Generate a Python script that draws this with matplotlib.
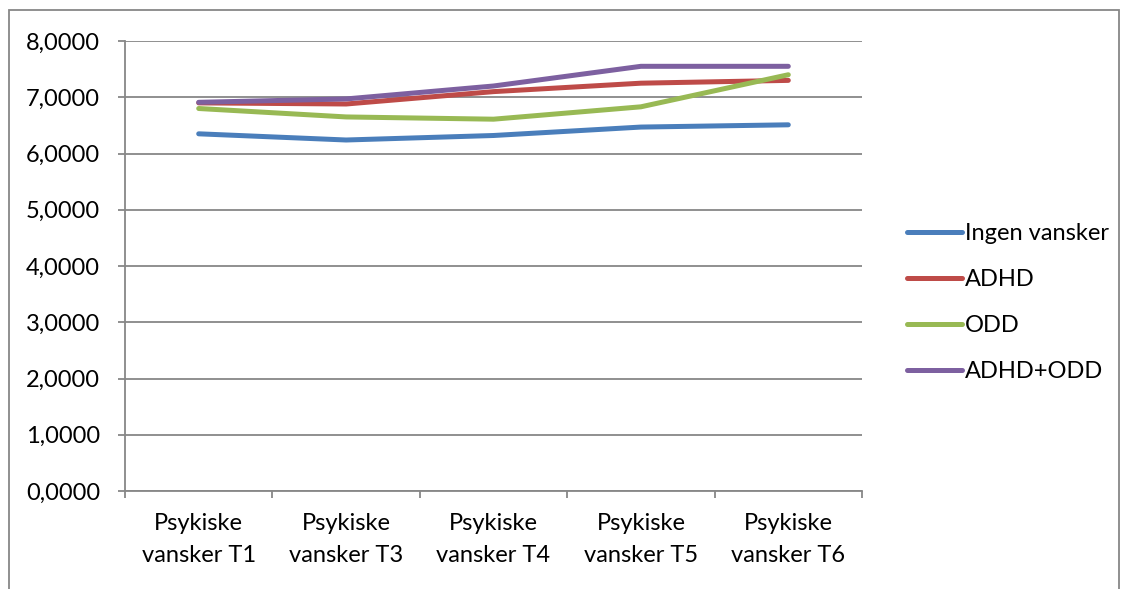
import numpy as np
import matplotlib.pyplot as plt
from matplotlib.patches import Rectangle

# Kategorier og gjennomsnitt per gruppe
categories = ["Psykiske\nvansker T1", "Psykiske\nvansker T3", "Psykiske\nvansker T4",
              "Psykiske\nvansker T5", "Psykiske\nvansker T6"]
ingen = [6.35, 6.24, 6.32, 6.47, 6.51]
adhd = [6.90, 6.88, 7.10, 7.25, 7.30]
odd = [6.80, 6.65, 6.61, 6.83, 7.40]
adhd_odd = [6.91, 6.97, 7.20, 7.55, 7.55]

series = [
    ("Ingen vansker", ingen, "#4A7EBB"),
    ("ADHD", adhd, "#BE4B48"),
    ("ODD", odd, "#98B954"),
    ("ADHD+ODD", adhd_odd, "#7D60A0"),
]

plt.rcParams["font.family"] = ["Lato", "DejaVu Sans"]
grid_col = "#878787"
fs = 17

fig = plt.figure(figsize=(11.25, 5.89), dpi=100)
W, H = 1125, 589
ax = fig.add_axes([125 / W, 1 - 491 / H, (862 - 125) / W, (491 - 41) / H])

x = np.arange(len(categories))
for name, vals, col in series:
    ax.plot(x, vals, color=col, lw=3.6, label=name, solid_capstyle="round",
            solid_joinstyle="round")

ax.set_xlim(-0.5, len(categories) - 0.5)
ax.set_ylim(0, 8)
ax.set_yticks(np.arange(0, 9, 1))
ax.set_yticklabels([f"{v:.4f}".replace(".", ",") for v in range(9)], fontsize=fs)
ax.yaxis.grid(True, color=grid_col, lw=1.3)
ax.set_axisbelow(True)

# kategoriticks mellom gruppene, etiketter midt i
ax.set_xticks(np.arange(-0.5, len(categories), 1))
ax.set_xticklabels([])
ax.set_xticks(x, minor=True)
ax.set_xticklabels(categories, minor=True, fontsize=fs, linespacing=1.65)
ax.tick_params(axis="x", which="minor", length=0, pad=16)
ax.tick_params(axis="x", which="major", length=5, color=grid_col, width=1.3)
ax.tick_params(axis="y", length=5, color=grid_col, width=1.3, pad=13)

for s in ["top", "right"]:
    ax.spines[s].set_visible(False)
for s in ["left", "bottom"]:
    ax.spines[s].set_color(grid_col)
    ax.spines[s].set_linewidth(1.3)

fig.legend(loc="upper left", bbox_to_anchor=(898 / W, 1 - 214 / H), frameon=False,
           fontsize=fs, handlelength=2.3, handletextpad=0.15, labelspacing=1.05,
           borderaxespad=0)

# ramme rundt diagrammet
fig.patches.append(Rectangle((9 / W, -0.05), (1119 - 9) / W, 1 - 10 / H + 0.05,
                             transform=fig.transFigure, fill=False,
                             edgecolor=grid_col, lw=1.3))

fig.savefig("out.png", dpi=100)
